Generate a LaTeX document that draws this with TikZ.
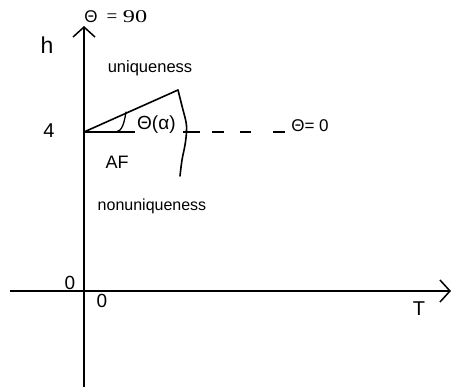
\documentclass[tikz,border=0pt]{standalone}
\usepackage{fontspec}
\setmainfont{Liberation Sans}
\newfontfamily\seriffont{Liberation Serif}
\usetikzlibrary{arrows.meta}
\begin{document}
\begin{tikzpicture}[x=1pt,y=-1pt,
  axis/.style={line width=1.5pt,-{Straight Barb[length=10pt,width=22pt,line width=1.5pt]}},
  curve/.style={line width=1.6pt,line join=round,line cap=round},
  lbl/.style={inner sep=0pt,anchor=center},
  dashseg/.style={line width=1.4pt}]
\useasboundingbox (0,0) rectangle (453,388);
% axes
\coordinate (vbot) at (84,387);
\coordinate (vtop) at (84,26);
\coordinate (hleft) at (10,291);
\coordinate (hright) at (451,291);
\draw[axis] (vbot) -- (vtop);
\draw[axis] (hleft) -- (hright);
% axis labels
\node[lbl,font=\fontsize{23}{23}\selectfont] (h) at (47,45) {h};
\node[lbl,font=\fontsize{20}{20}\selectfont] (four) at (49,131) {4};
\node[lbl,font=\fontsize{19}{19}\selectfont] (zeroA) at (70,283) {0};
\node[lbl,font=\fontsize{19}{19}\selectfont] (zeroB) at (102,301) {0};
\node[lbl,font=\fontsize{20}{20}\selectfont] (T) at (419,309) {T};
% top label
\node[lbl,font=\fontsize{17}{17}\selectfont] (th90a) at (91,17) {Θ};
\node[lbl,font=\seriffont\fontsize{19}{19}\selectfont] (th90b) at (112,18) {=};
\node[lbl,font=\seriffont\fontsize{18}{18}\selectfont] (th90c) at (135,17) {\scalebox{1.35}[1]{90}};
% region labels
\node[lbl,font=\fontsize{16.5}{16.5}\selectfont] (uniq) at (150,68) {uniqueness};
\node[lbl,font=\fontsize{18}{18}\selectfont] (AF) at (117,162) {AF};
\node[lbl,font=\fontsize{16}{16}\selectfont] (nonuniq) at (152,206) {nonuniqueness};
% boundary lines
\coordinate (O4) at (84,132);
\coordinate (P) at (178,90);
\draw[curve] (O4) -- (P);
\draw[curve] plot[smooth,tension=0.6] coordinates {(178,90) (182,106) (186,122) (186.5,132) (185,145) (182,160) (180,176)};
% angle hook
\draw[curve,line width=1.3pt] (126,112) .. controls (124,124) and (122,131) .. (116,132);
% theta = 0 line
\draw[dashseg] (O4) -- (135,132);
\node[lbl,font=\fontsize{19}{19}\selectfont,anchor=south west] (thalpha) at (137,134) {Θ(α)};
\draw[dashseg] (183,132) -- (200,132);
\draw[dashseg] (212,132) -- (224,132);
\draw[dashseg] (240,132) -- (251,132);
\draw[dashseg] (273,132) -- (285,132);
\node[lbl,font=\fontsize{17}{17}\selectfont] (th0) at (310,126) {Θ= 0};
\end{tikzpicture}
\end{document}
